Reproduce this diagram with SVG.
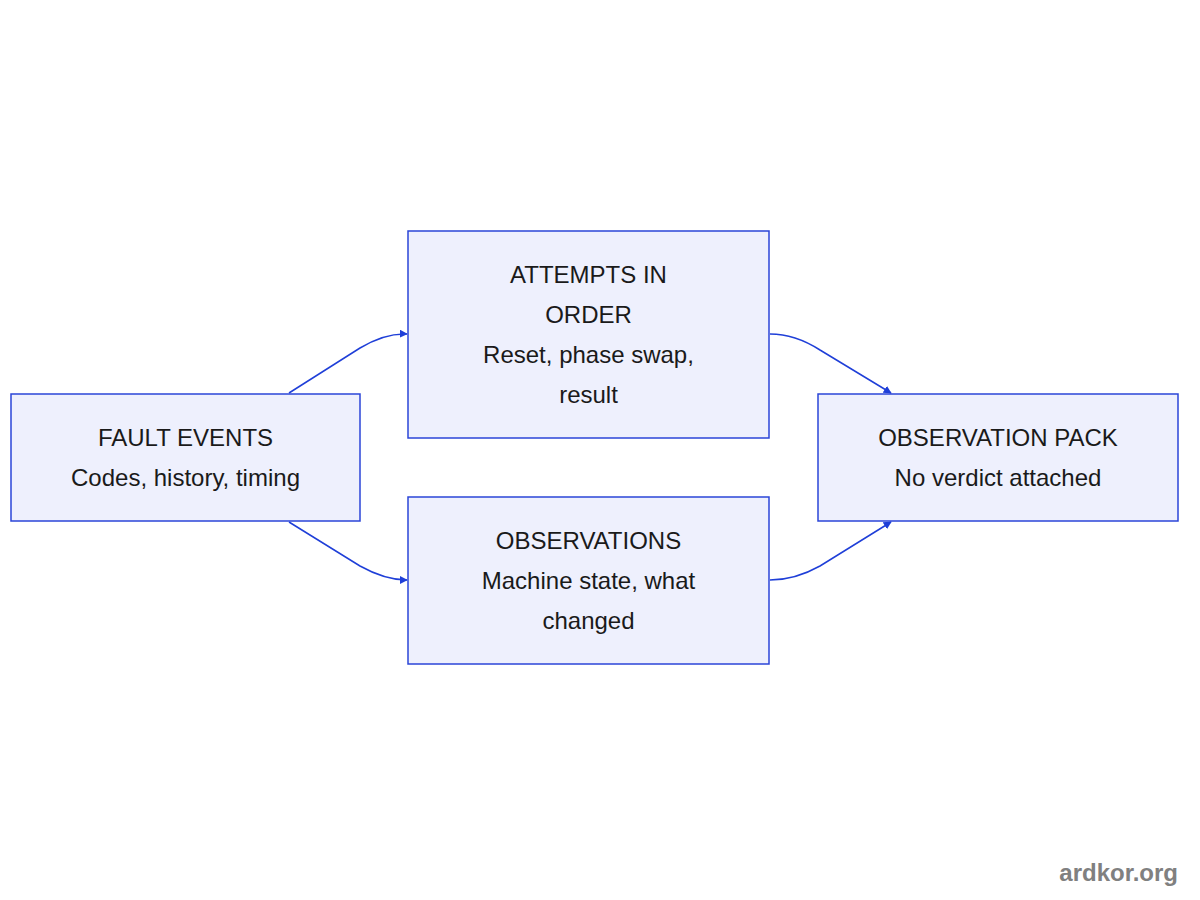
<svg xmlns="http://www.w3.org/2000/svg" width="1200" height="900" viewBox="0 0 1200 900">
<style>
.n{fill:#eef0fd;stroke:#2b45d8;stroke-width:1.5}
.t{font-family:"Helvetica","Liberation Sans",Arial,sans-serif;font-size:24px;fill:#1a1a1a;text-anchor:middle}
.e{fill:none;stroke:#1f3fd8;stroke-width:1.5;marker-end:url(#a)}
</style>
<defs><marker id="a" viewBox="0 0 10 10" refX="9" refY="5" markerWidth="8" markerHeight="8" markerUnits="userSpaceOnUse" orient="auto"><path d="M0 0L10 5L0 10z" fill="#1f3fd8"/></marker></defs>
<rect width="1200" height="900" fill="#fff"/>
<g id="edges">
<path class="e" d="M289 393 L360 348 Q385 333 407 334"/>
<path class="e" d="M289 522 L360 566 Q385 580 407 580"/>
<path class="e" d="M770 334 Q795 334 820 350 L891 393"/>
<path class="e" d="M770 580 Q795 580 820 566 L891 522"/>
</g>
<g id="fault"><rect class="n" x="11" y="394" width="349" height="127"/><text class="t" x="185.5" y="446">FAULT EVENTS</text><text class="t" x="185.5" y="486">Codes, history, timing</text></g>
<g id="attempts"><rect class="n" x="408" y="231" width="361" height="207"/><text class="t" x="588.5" y="283">ATTEMPTS IN</text><text class="t" x="588.5" y="323">ORDER</text><text class="t" x="588.5" y="363">Reset, phase swap,</text><text class="t" x="588.5" y="403">result</text></g>
<g id="obs"><rect class="n" x="408" y="497" width="361" height="167"/><text class="t" x="588.5" y="549">OBSERVATIONS</text><text class="t" x="588.5" y="589">Machine state, what</text><text class="t" x="588.5" y="629">changed</text></g>
<g id="pack"><rect class="n" x="818" y="394" width="360" height="127"/><text class="t" x="998" y="446">OBSERVATION PACK</text><text class="t" x="998" y="486">No verdict attached</text></g>
<text x="1178" y="881" font-family="Helvetica,'Liberation Sans',Arial,sans-serif" font-size="24" font-weight="bold" fill="#808080" text-anchor="end">ardkor.org</text>
</svg>
